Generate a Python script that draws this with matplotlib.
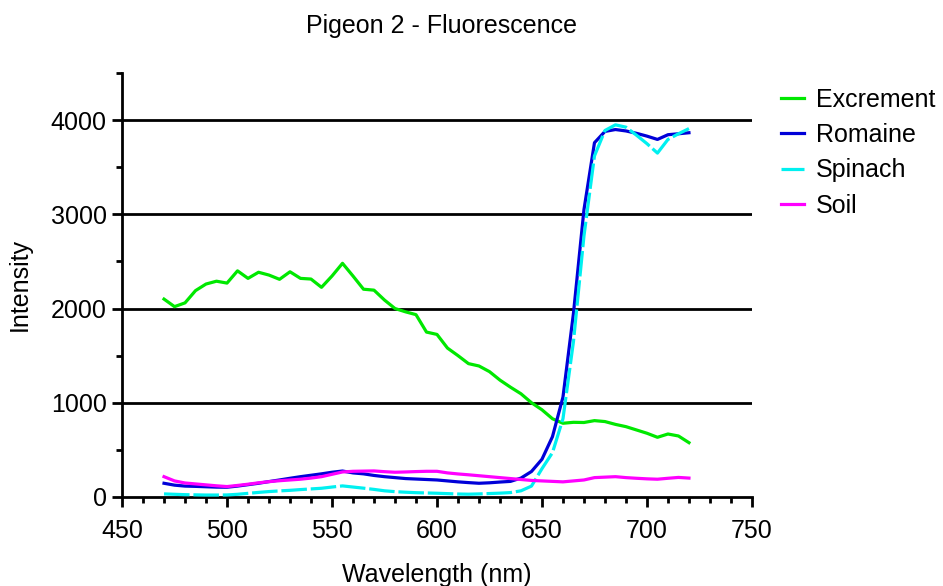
import matplotlib
matplotlib.use("Agg")
import matplotlib.pyplot as plt
from matplotlib.ticker import MultipleLocator

plt.rcParams['font.family'] = ['Liberation Sans', 'DejaVu Sans']

wavelength = list(range(470, 721, 5))

excrement = [2100, 2020, 2060, 2190, 2260, 2290, 2270, 2400, 2320, 2385,
             2355, 2310, 2390, 2320, 2313, 2225, 2345, 2480, 2345, 2205,
             2195, 2090, 2000, 1965, 1935, 1750, 1725, 1580, 1500, 1415,
             1390, 1330, 1240, 1165, 1095, 1000, 925, 830, 782, 792,
             790, 810, 800, 770, 746, 711, 676, 633, 668, 647, 576]

romaine = [145, 125, 115, 112, 108, 104, 103, 115, 130, 145,
           163, 180, 198, 215, 230, 245, 262, 275, 255, 245,
           228, 215, 205, 195, 190, 185, 180, 170, 160, 152,
           145, 150, 158, 165, 200, 270, 400, 640, 1060, 1950,
           3050, 3760, 3880, 3900, 3885, 3860, 3830, 3795, 3845, 3855, 3866]

spinach = [32, 28, 24, 22, 20, 20, 21, 28, 38, 48,
           57, 64, 70, 78, 85, 92, 105, 117, 105, 93,
           80, 65, 56, 50, 45, 42, 39, 35, 31, 29,
           32, 36, 40, 46, 65, 115, 300, 470, 830, 1650,
           2770, 3620, 3890, 3950, 3925, 3840, 3750, 3650, 3795, 3855, 3910]

soil = [215, 170, 148, 138, 128, 118, 110, 122, 135, 150,
        162, 172, 180, 188, 200, 215, 240, 265, 272, 274,
        276, 268, 262, 265, 269, 272, 272, 255, 244, 235,
        225, 215, 205, 195, 185, 175, 170, 165, 160, 170,
        180, 205, 210, 215, 205, 198, 192, 188, 198, 207, 200]

fig = plt.figure(figsize=(9.43, 5.86), dpi=100)
ax = fig.add_axes([0.1294, 0.152, 0.668, 0.7234])

lw = 2.3
ax.plot(wavelength, excrement, color='#00e800', lw=lw, label='Excrement', zorder=3)
ax.plot(wavelength, romaine, color='#0000d8', lw=lw, label='Romaine', zorder=3)
ax.plot(wavelength, spinach, color='#00f0f0', lw=lw, label='Spinach',
        dashes=(8, 1.2), zorder=3)
ax.plot(wavelength, soil, color='#ff00ff', lw=lw, label='Soil', zorder=3)

ax.set_xlim(450, 750)
ax.set_ylim(0, 4500)
ax.set_xticks(range(450, 751, 50))
ax.set_yticks(range(0, 4001, 1000))
ax.xaxis.set_minor_locator(MultipleLocator(10))
ax.yaxis.set_minor_locator(MultipleLocator(500))

for y in range(1000, 4001, 1000):
    ax.axhline(y, color='black', lw=2.0, zorder=1)

for s in ['top', 'right']:
    ax.spines[s].set_visible(False)
for s in ['left', 'bottom']:
    ax.spines[s].set_linewidth(2.0)

ax.tick_params(which='major', direction='out', length=7, width=2.0,
               labelsize=18)
ax.tick_params(axis='x', which='major', pad=9)
ax.tick_params(axis='y', which='major', pad=4)
ax.tick_params(which='minor', direction='out', length=4, width=2.0)

ax.set_xlabel('Wavelength (nm)', fontsize=18, labelpad=14)
ax.set_ylabel('Intensity', fontsize=18, labelpad=14)
fig.text(0.468, 0.955, 'Pigeon 2 - Fluorescence', fontsize=18,
         ha='center', va='center')

ax.legend(loc='upper left', bbox_to_anchor=(0.8285, 0.850),
          bbox_transform=fig.transFigure, frameon=False, fontsize=18,
          handlelength=0.9, handletextpad=0.5, labelspacing=0.45,
          borderaxespad=0, borderpad=0)

fig.savefig('out.png', dpi=100)
